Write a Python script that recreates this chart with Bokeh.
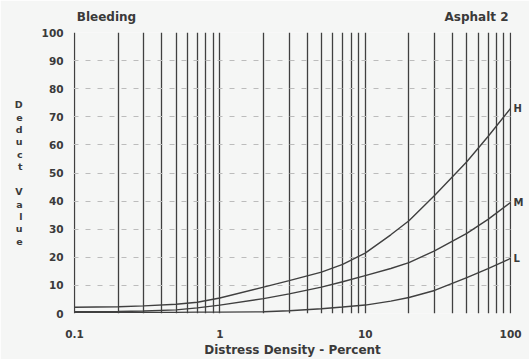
import math
from bokeh.plotting import figure
from bokeh.models import FixedTicker, LogAxis, LinearAxis
from bokeh.embed import file_html
from bokeh.resources import INLINE

# ---- data ----
density = [0.1, 0.2, 0.3, 0.5, 0.7, 1, 2, 3, 5, 7, 10, 15, 20, 30, 50, 70, 100]
deduct_h = [2.2, 2.4, 2.7, 3.3, 4.0, 5.5, 9.4, 11.7, 14.7, 17.5, 21.5, 28.0, 33.0, 42.0, 54.0, 63.0, 73.0]
deduct_m = [0.6, 0.7, 0.9, 1.3, 2.0, 3.0, 5.3, 7.0, 9.4, 11.3, 13.5, 16.0, 18.1, 22.3, 28.5, 33.5, 39.5]
deduct_l = [0.4, 0.4, 0.4, 0.4, 0.5, 0.5, 0.6, 1.0, 1.7, 2.3, 3.0, 4.4, 5.7, 8.2, 12.8, 16.0, 19.6]
curve_names = ["H", "M", "L"]

x_ticks = [0.1, 1, 10, 100]
x_tick_labels = ["0.1", "1", "10", "100"]
y_ticks = [0, 10, 20, 30, 40, 50, 60, 70, 80, 90, 100]
x_grid = [m * d for d in (0.1, 1, 10) for m in range(1, 10)] + [100]

title_left = "Bleeding"
title_right = "Asphalt 2"
y_label = "Deduct Value"
x_label = "Distress Density - Percent"

BG = "#f5f6f5"
INK = "#3a3a3a"
FONT = "DejaVu Sans"

# frame geometry (pixels)
W, H = 529, 359
F_LEFT, F_RIGHT, F_TOP, F_BOTTOM = 73, 511, 32, 313
X_LO, X_HI = 0.0985, 101.5


def px_to_x(px):
    a, b = math.log10(X_LO), math.log10(X_HI)
    return 10 ** (a + (px - F_LEFT) / (F_RIGHT - F_LEFT) * (b - a))


p = figure(width=W, height=H, x_axis_type="log",
           x_range=(X_LO, X_HI), y_range=(0, 100),
           output_backend="svg", toolbar_location=None,
           min_border_left=F_LEFT, min_border_right=W - F_RIGHT,
           min_border_top=F_TOP, min_border_bottom=H - F_BOTTOM,
           background_fill_color=BG, border_fill_color=BG)
p.outline_line_color = None

# grids
p.xgrid.ticker = FixedTicker(ticks=x_grid)
p.xgrid.grid_line_color = "#404040"
p.xgrid.grid_line_width = 1.3
p.ygrid.ticker = FixedTicker(ticks=y_ticks)
p.ygrid.grid_line_color = "#bcbcbc"
p.ygrid.grid_line_width = 1
p.ygrid.grid_line_dash = "5 7"


def style_axis(ax, size="10.5px"):
    ax.axis_line_color = None
    ax.major_tick_line_color = None
    ax.minor_tick_line_color = None
    ax.major_tick_out = 0
    ax.major_tick_in = 0
    ax.minor_tick_out = 0
    ax.minor_tick_in = 0
    ax.axis_label_standoff = 0
    ax.major_label_text_font = FONT
    ax.major_label_text_font_style = "bold"
    ax.major_label_text_font_size = size
    ax.major_label_text_color = INK


style_axis(p.xaxis[0])
style_axis(p.yaxis[0])

p.xaxis.ticker = FixedTicker(ticks=x_ticks)
p.xaxis.major_label_overrides = {t: s for t, s in zip(x_ticks, x_tick_labels)}
p.xaxis.major_label_standoff = 16
p.xaxis.axis_label = x_label
p.xaxis.axis_label_standoff = 2
p.xaxis.axis_label_text_font = FONT
p.xaxis.axis_label_text_font_style = "bold"
p.xaxis.axis_label_text_font_size = "12px"
p.xaxis.axis_label_text_color = INK

p.yaxis.ticker = FixedTicker(ticks=y_ticks)
p.yaxis.major_label_standoff = 10
# stacked, upright letters for the y label
p.yaxis.axis_label = "\n".join(y_label)
p.yaxis.axis_label_orientation = "horizontal"
p.yaxis.axis_label_standoff = 16
p.yaxis.axis_label_text_font = FONT
p.yaxis.axis_label_text_font_style = "bold"
p.yaxis.axis_label_text_font_size = "9.5px"
p.yaxis.axis_label_text_line_height = 1.13
p.yaxis.axis_label_text_color = INK

# curves
for ys in (deduct_h, deduct_m, deduct_l):
    p.line(density, ys, line_color="#404040", line_width=1.4)

# titles: an upper axis carrying the two header texts
t_left_x = px_to_x(106)
t_right_x = px_to_x(476)
top_axis = LogAxis(ticker=FixedTicker(ticks=[t_left_x, t_right_x]),
                   major_label_overrides={t_left_x: title_left,
                                          t_right_x: title_right})
style_axis(top_axis, "12px")
top_axis.major_label_standoff = 9
p.add_layout(top_axis, "above")

# curve-end labels: a right axis with ticks at the curves' last values
end_vals = [deduct_h[-1], deduct_m[-1], deduct_l[-1]]
right_axis = LinearAxis(ticker=FixedTicker(ticks=end_vals),
                        major_label_overrides={v: n for v, n in zip(end_vals, curve_names)})
style_axis(right_axis, "10px")
right_axis.major_label_standoff = 2
p.add_layout(right_axis, "right")

open("out.html", "w").write(file_html(p, INLINE))
